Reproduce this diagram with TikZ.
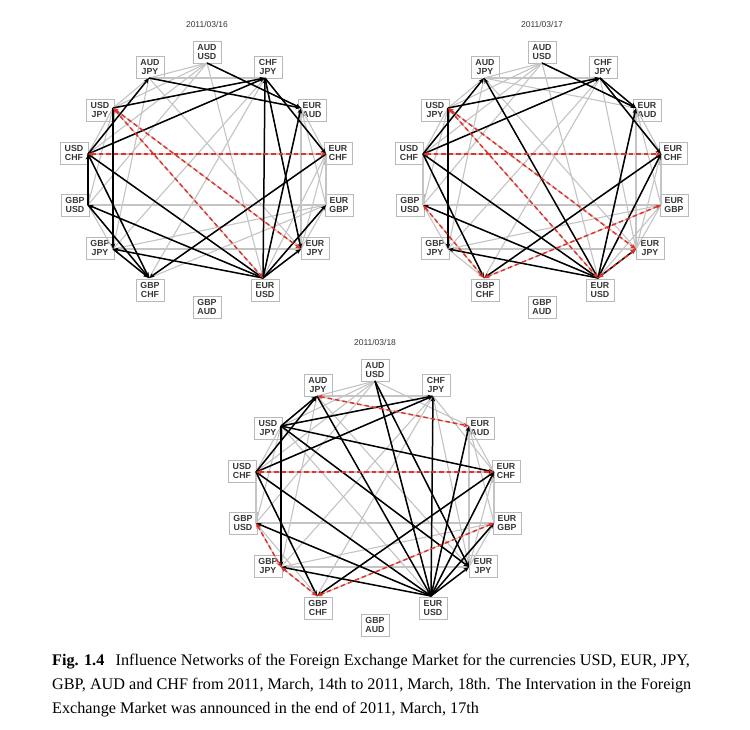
\documentclass[tikz,border=0pt]{standalone}
\usepackage{fontspec}
\setmainfont{Liberation Serif}
\setsansfont{Liberation Sans}
\usetikzlibrary{positioning, arrows.meta}
\definecolor{fxred}{RGB}{228,50,40}
\definecolor{fxgrey}{RGB}{196,196,196}
\definecolor{fxtext}{RGB}{55,55,55}

\begin{document}
\begin{tikzpicture}[x=1pt, y=-1pt,
       cbox/.style = {rectangle, draw=gray!55, fill=white, line width=0.8pt, inner sep=1.5pt,
                      minimum width=28pt, minimum height=22pt, align=center, text=fxtext,
                      font=\sffamily\bfseries\fontsize{8.8}{9.8}\selectfont},
    datelbl/.style = {font=\sffamily\fontsize{8.5}{9}\selectfont, text=fxtext},
      share/.style = {draw=fxgrey, line width=1.1pt},
       infl/.style = {draw=black, line width=1.5pt, -{Stealth[length=5.5pt,width=4.5pt]}},
       both/.style = {draw=fxred, line width=1.5pt, dash pattern=on 4.5pt off 3pt,
                      {Stealth[length=5.5pt,width=4.5pt]}-{Stealth[length=5.5pt,width=4.5pt]}},
     captxt/.style = {anchor=base west, inner sep=0pt, font=\fontsize{16.2}{24}\selectfont}
                        ]
\fill[white] (0,0) rectangle (750,729);
\useasboundingbox (0,0) rectangle (750,729);

\node (adate) [datelbl] at (207,24) {2011/03/16};
\node (bdate) [datelbl] at (542,24) {2011/03/17};
\node (cdate) [datelbl] at (375,342) {2011/03/18};

\foreach \p/\cx/\cy in {a/207/179, b/542/179, c/375/497}
  \foreach \n/\dx/\dy/\lx/\ly/\curA/\curB in {
      AUDUSD/0/-116/0/-127/AUD/USD, CHFJPY/58/-101/61/-112/CHF/JPY,
      EURAUD/94/-71/105/-69/EUR/AUD, EURCHF/119/-25/131/-26/EUR/CHF,
      EURGBP/119/26/132/26/EUR/GBP, EURJPY/94/70/108/69/EUR/JPY,
      EURUSD/56/99/58/111/EUR/USD, GBPAUD/0/116/0/128/GBP/AUD,
      GBPCHF/-58/99/-57/111/GBP/CHF, GBPJPY/-94/70/-107/69/GBP/JPY,
      GBPUSD/-119/26/-132/26/GBP/USD, USDCHF/-119/-25/-133/-26/USD/CHF,
      USDJPY/-94/-71/-107/-69/USD/JPY, AUDJPY/-58/-101/-57/-112/AUD/JPY}
  {
    \coordinate (\p\n) at (\cx+\dx, \cy+\dy);
    \node (\p\n box) [cbox] at (\cx+\lx, \cy+\ly) {\curA\\\curB};
  }

\foreach \p in {a,b,c}
  \foreach \s/\t in {AUDUSD/EURAUD, AUDUSD/AUDJPY, EURAUD/AUDJPY,
      AUDUSD/EURUSD, AUDUSD/GBPUSD, AUDUSD/USDCHF, AUDUSD/USDJPY, EURUSD/GBPUSD,
      EURUSD/USDCHF, EURUSD/USDJPY, GBPUSD/USDCHF, GBPUSD/USDJPY, USDCHF/USDJPY,
      EURAUD/EURCHF, EURAUD/EURGBP, EURAUD/EURJPY, EURAUD/EURUSD, EURCHF/EURGBP,
      EURCHF/EURJPY, EURCHF/EURUSD, EURGBP/EURJPY, EURGBP/EURUSD, EURJPY/EURUSD,
      CHFJPY/EURJPY, CHFJPY/GBPJPY, CHFJPY/USDJPY, CHFJPY/AUDJPY, EURJPY/GBPJPY,
      EURJPY/USDJPY, EURJPY/AUDJPY, GBPJPY/USDJPY, GBPJPY/AUDJPY, USDJPY/AUDJPY,
      CHFJPY/EURCHF, CHFJPY/GBPCHF, CHFJPY/USDCHF, EURCHF/GBPCHF, EURCHF/USDCHF,
      GBPCHF/USDCHF, EURGBP/GBPCHF, EURGBP/GBPJPY, EURGBP/GBPUSD, GBPCHF/GBPJPY,
      GBPCHF/GBPUSD, GBPJPY/GBPUSD}
    \draw[share] (\p\s) -- (\p\t);

\draw[infl] (aAUDUSD) -- (aEURAUD);
\draw[infl] (aAUDJPY) -- (aEURAUD);
\draw[infl] (aUSDJPY) -- (aCHFJPY);
\draw[infl] (aUSDCHF) -- (aCHFJPY);
\draw[infl] (aUSDCHF) -- (aAUDJPY);
\draw[infl] (aUSDJPY) -- (aGBPJPY);
\draw[infl] (aCHFJPY) -- (aEURCHF);
\draw[infl] (aCHFJPY) -- (aEURJPY);
\draw[infl] (aEURUSD) -- (aCHFJPY);
\draw[infl] (aEURUSD) -- (aEURAUD);
\draw[infl] (aGBPUSD) -- (aUSDCHF);
\draw[infl] (aUSDCHF) -- (aGBPCHF);
\draw[infl] (aUSDCHF) -- (aEURUSD);
\draw[infl] (aGBPUSD) -- (aGBPCHF);
\draw[infl] (aGBPJPY) -- (aGBPCHF);
\draw[infl] (aEURCHF) -- (aGBPCHF);
\draw[infl] (aEURUSD) -- (aGBPUSD);
\draw[infl] (aEURUSD) -- (aGBPJPY);
\draw[infl] (aEURUSD) -- (aEURGBP);
\draw[infl] (aEURUSD) -- (aEURJPY);
\draw[both] (aUSDCHF) -- (aEURCHF);
\draw[both] (aUSDJPY) -- (aEURJPY);
\draw[both] (aUSDJPY) -- (aEURUSD);

\draw[infl] (bAUDUSD) -- (bEURAUD);
\draw[infl] (bUSDJPY) -- (bCHFJPY);
\draw[infl] (bUSDCHF) -- (bCHFJPY);
\draw[infl] (bUSDCHF) -- (bAUDJPY);
\draw[infl] (bEURUSD) -- (bAUDJPY);
\draw[infl] (bUSDJPY) -- (bGBPJPY);
\draw[infl] (bCHFJPY) -- (bEURCHF);
\draw[infl] (bCHFJPY) -- (bEURAUD);
\draw[infl] (bEURUSD) -- (bEURAUD);
\draw[infl] (bUSDCHF) -- (bGBPCHF);
\draw[infl] (bUSDCHF) -- (bEURUSD);
\draw[infl] (bEURCHF) -- (bGBPCHF);
\draw[infl] (bEURUSD) -- (bGBPUSD);
\draw[infl] (bEURUSD) -- (bGBPJPY);
\draw[infl] (bEURUSD) -- (bEURCHF);
\draw[infl] (bEURUSD) -- (bEURJPY);
\draw[both] (bUSDCHF) -- (bEURCHF);
\draw[both] (bUSDJPY) -- (bEURJPY);
\draw[both] (bUSDJPY) -- (bEURUSD);
\draw[both] (bGBPUSD) -- (bGBPCHF);
\draw[both] (bGBPCHF) -- (bEURGBP);
\draw[both] (bEURUSD) -- (bEURJPY);

\draw[infl] (cUSDJPY) -- (cAUDJPY);
\draw[infl] (cUSDCHF) -- (cAUDJPY);
\draw[infl] (cUSDJPY) -- (cCHFJPY);
\draw[infl] (cUSDCHF) -- (cCHFJPY);
\draw[infl] (cUSDJPY) -- (cEURCHF);
\draw[infl] (cUSDJPY) -- (cEURJPY);
\draw[infl] (cUSDJPY) -- (cGBPJPY);
\draw[infl] (cAUDUSD) -- (cEURJPY);
\draw[infl] (cAUDUSD) -- (cEURUSD);
\draw[infl] (cAUDJPY) -- (cEURUSD);
\draw[infl] (cUSDCHF) -- (cGBPCHF);
\draw[infl] (cUSDCHF) -- (cEURUSD);
\draw[infl] (cEURCHF) -- (cGBPCHF);
\draw[infl] (cEURUSD) -- (cGBPUSD);
\draw[infl] (cEURUSD) -- (cGBPJPY);
\draw[infl] (cEURUSD) -- (cEURAUD);
\draw[infl] (cEURUSD) -- (cCHFJPY);
\draw[infl] (cEURUSD) -- (cEURCHF);
\draw[infl] (cEURUSD) -- (cEURGBP);
\draw[infl] (cEURUSD) -- (cEURJPY);
\draw[both] (cAUDJPY) -- (cEURAUD);
\draw[both] (cUSDCHF) -- (cEURCHF);
\draw[both] (cGBPUSD) -- (cGBPJPY);
\draw[both] (cGBPJPY) -- (cGBPCHF);
\draw[both] (cGBPCHF) -- (cEURGBP);

\node (cap1) [captxt] at (52,665) {\textbf{Fig. 1.4}\hspace{0.7em}Influence Networks of the Foreign Exchange Market for the currencies USD, EUR, JPY,};
\node (cap2) [captxt] at (52,689) {GBP, AUD and CHF from 2011, March, 14th to 2011, March, 18th. The Intervation in the Foreign};
\node (cap3) [captxt] at (52,713) {Exchange Market was announced in the end of 2011, March, 17th};
\end{tikzpicture}
\end{document}
